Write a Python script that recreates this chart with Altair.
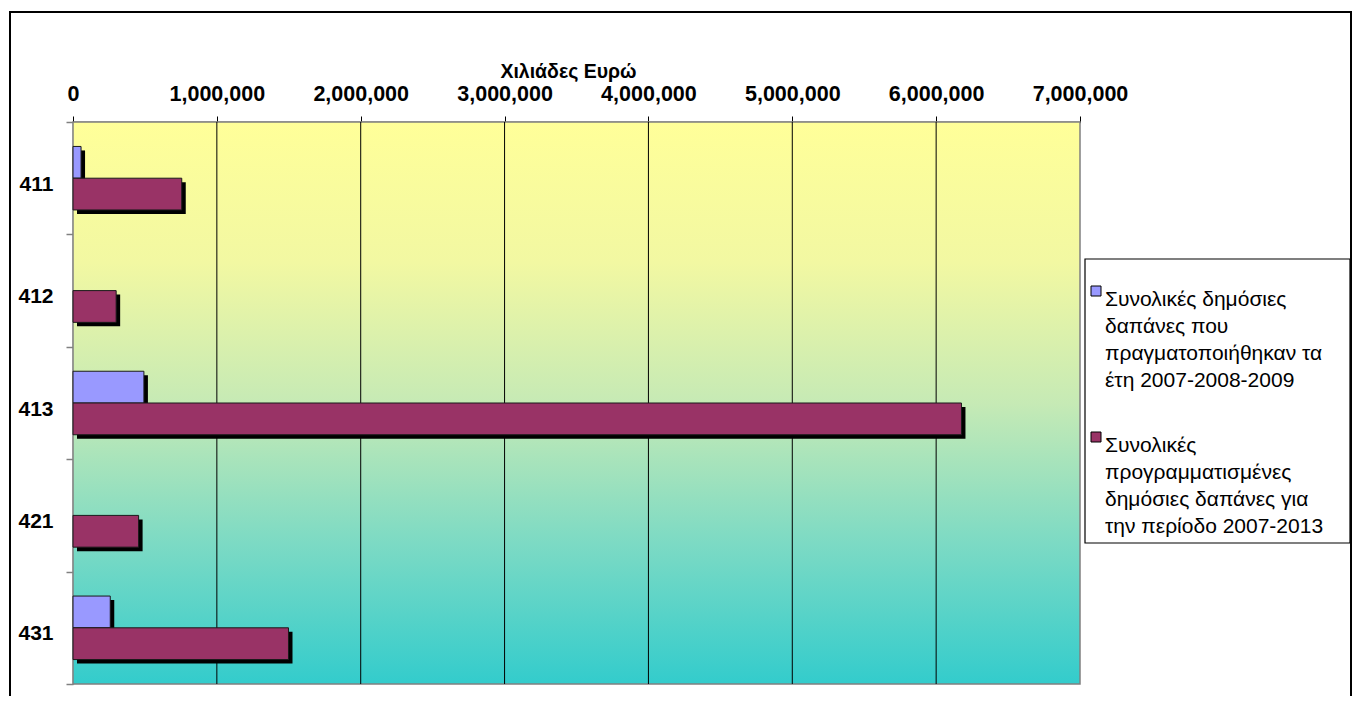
import altair as alt
import pandas as pd

# ---- data ----
categories = ["411", "412", "413", "421", "431"]
spent_2007_2009 = [56000, 0, 493000, 0, 259000]
planned_2007_2013 = [756000, 300000, 6176000, 456000, 1498000]
series_names = [
    "Συνολικές δημόσιες δαπάνες που πραγματοποιήθηκαν τα έτη 2007-2008-2009",
    "Συνολικές προγραμματισμένες δημόσιες δαπάνες για την περίοδο 2007-2013",
]
legend_lines = [
    ["Συνολικές δημόσιες", "δαπάνες που", "πραγματοποιήθηκαν τα", "έτη 2007-2008-2009"],
    ["Συνολικές", "προγραμματισμένες", "δημόσιες δαπάνες για", "την περίοδο 2007-2013"],
]
series_colors = ["#9999FF", "#993366"]
x_ticks = [0, 1000000, 2000000, 3000000, 4000000, 5000000, 6000000, 7000000]
x_title = "Χιλιάδες Ευρώ"

FONT = "Liberation Sans"
W, H = 1007, 562
BAND = H / len(categories)
SH = 4  # shadow offset in px

rows = []
for i, c in enumerate(categories):
    rows.append({"category": c, "series": series_names[0], "value": spent_2007_2009[i]})
    rows.append({"category": c, "series": series_names[1], "value": planned_2007_2013[i]})
df = pd.DataFrame(rows)

x_scale = alt.Scale(domain=[x_ticks[0], x_ticks[-1]], nice=False, zero=True)
y_scale = alt.Scale(domain=categories, paddingInner=0, paddingOuter=0)
yoff_scale = alt.Scale(domain=series_names, paddingInner=0, paddingOuter=0.77)
yoff_shadow_scale = alt.Scale(
    domain=series_names, paddingInner=0, paddingOuter=0.77, range=[SH, BAND + SH]
)

x_axis = alt.Axis(
    orient="top",
    values=x_ticks,
    format=",d",
    grid=False,
    domainColor="black",
    domainWidth=1.5,
    tickColor="black",
    tickSize=6,
    labelFont=FONT,
    labelFontSize=21.5,
    labelFontWeight="bold",
    labelColor="black",
    labelPadding=11,
    labelFlush=False,
    labelOverlap=False,
    title=x_title,
    titleFont=FONT,
    titleFontSize=19.5,
    titleFontWeight="bold",
    titleColor="black",
    titlePadding=2,
    titleX=495,
    titleAlign="center",
)
y_axis = alt.Axis(
    orient="left",
    title=None,
    domainColor="#808080",
    domainWidth=1.5,
    tickColor="#808080",
    tickWidth=1.5,
    tickSize=7,
    tickBand="extent",
    labelFont=FONT,
    labelFontSize=21,
    labelFontWeight="bold",
    labelColor="black",
    labelPadding=13,
    labelOffset=6,
)

# plot-area gradient background
gradient = alt.LinearGradient(
    gradient="linear",
    x1=0, x2=0, y1=0, y2=1,
    stops=[
        alt.GradientStop(color="#FFFF99", offset=0),
        alt.GradientStop(color="#F2F8A2", offset=0.25),
        alt.GradientStop(color="#C6EAB5", offset=0.5),
        alt.GradientStop(color="#7CDAC4", offset=0.75),
        alt.GradientStop(color="#33CCCC", offset=1),
    ],
)
bg = alt.Chart(alt.Data(values=[{"lo": x_ticks[0], "hi": x_ticks[-1]}])).mark_rect(
    fill=gradient, stroke="#808080", strokeWidth=1.5
).encode(
    x=alt.X("lo:Q", scale=x_scale, axis=x_axis),
    x2="hi:Q",
)

grid = alt.Chart(pd.DataFrame({"tick": x_ticks[1:-1]})).mark_rule(
    color="black", strokeWidth=1
).encode(x=alt.X("tick:Q", scale=x_scale, axis=x_axis))

base = alt.Chart(df).transform_filter("datum.value > 0")

shadow = base.mark_bar(color="black", xOffset=SH, x2Offset=SH).encode(
    x=alt.X("value:Q", scale=x_scale, axis=x_axis),
    y=alt.Y("category:N", scale=y_scale, sort=categories, axis=y_axis),
    yOffset=alt.YOffset("series:N", scale=yoff_shadow_scale, sort=series_names),
)

bars = base.mark_bar(stroke="#1a1a1a", strokeWidth=1).encode(
    x=alt.X("value:Q", scale=x_scale, axis=x_axis),
    y=alt.Y("category:N", scale=y_scale, sort=categories, axis=y_axis),
    yOffset=alt.YOffset("series:N", scale=yoff_scale, sort=series_names),
    color=alt.Color(
        "series:N",
        scale=alt.Scale(domain=series_names, range=series_colors),
        legend=None,
    ),
)

# hand-built legend (box, squares, wrapped labels)
one = alt.Data(values=[{}])
legend_box = alt.Chart(one).mark_rect(
    fill="white", stroke="black", strokeWidth=1.2
).encode(
    x=alt.value(1012), x2=alt.value(1277), y=alt.value(137), y2=alt.value(421)
)
legend_layers = [legend_box]
for i, (name, lines) in enumerate(zip(series_names, legend_lines)):
    sym_y = 169 + i * 146
    legend_layers.append(
        alt.Chart(one).mark_square(
            size=100, fill=series_colors[i], stroke="black", strokeWidth=1, opacity=1
        ).encode(x=alt.value(1023), y=alt.value(sym_y))
    )
    legend_layers.append(
        alt.Chart(alt.Data(values=[{"t": "\n".join(lines)}])).mark_text(
            align="left",
            baseline="alphabetic",
            font=FONT,
            fontSize=21,
            lineHeight=27,
            lineBreak="\n",
            color="black",
        ).encode(text="t:N", x=alt.value(1032), y=alt.value(sym_y + 15))
    )

frame = alt.Chart(one).mark_rect(
    fill=None, filled=False, stroke="black", strokeWidth=2, clip=False
).encode(x=alt.value(-63), x2=alt.value(1278), y=alt.value(-110), y2=alt.value(700))

chart = alt.layer(bg, grid, shadow, bars, *legend_layers, frame).resolve_scale(
    yOffset="independent"
).properties(
    width=W,
    height=H,
    autosize=alt.AutoSizeParams(type="none"),
    padding={"left": 65, "top": 114, "right": 272, "bottom": 12},
    background="white",
).configure_view(stroke=None)

chart.save("out.html", embed_options={"renderer": "svg", "actions": False})
